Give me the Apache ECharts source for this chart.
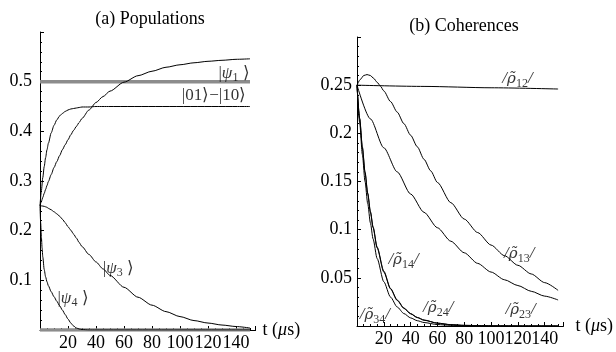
<!DOCTYPE html>
<html>
<head>
<meta charset="utf-8">
<script src="https://cdn.jsdelivr.net/npm/echarts@6/dist/echarts.min.js"></script>
<style>html,body{margin:0;padding:0;background:#fff}#c{width:616px;height:352px}</style>
</head>
<body>
<div id="c"></div>
<script>
// ---------- Panel (a) Populations ----------
const tA = [0,1,2,3,4,5,6,8,10,12,14,16,18,20,22,24,26,28,30,35,40,45,50,60,70,80,90,100,110,120,130,140,150];
const psi1 = [0.25,0.259,0.267,0.275,0.283,0.291,0.299,0.313,0.327,0.339,0.351,0.363,0.373,0.383,0.393,0.402,0.410,0.418,0.426,0.443,0.458,0.470,0.481,0.499,0.512,0.521,0.529,0.534,0.538,0.541,0.543,0.545,0.546];
const bell = [0.25,0.281,0.307,0.329,0.347,0.363,0.376,0.397,0.412,0.423,0.431,0.436,0.440,0.443,0.445,0.446,0.447,0.448,0.449,0.449,0.45,0.45,0.45,0.45,0.45,0.45,0.45,0.45,0.45,0.45,0.45,0.45,0.45];
const psi3 = [0.25,0.2499,0.2495,0.249,0.248,0.247,0.245,0.242,0.238,0.234,0.229,0.223,0.216,0.208,0.201,0.193,0.185,0.176,0.168,0.152,0.137,0.123,0.110,0.086,0.066,0.050,0.037,0.027,0.019,0.014,0.010,0.007,0.004];
const tPsi4 = [0,0.5,1,1.5,2,3,4,5,6,8,10,12,14,16,18,20,22,24,26,28,30,35,40,150];
const psi4 = [0.25,0.215,0.187,0.165,0.147,0.122,0.107,0.097,0.089,0.077,0.067,0.058,0.049,0.040,0.031,0.022,0.014,0.008,0.004,0.002,0.001,0,0,0];
const tFlat = [0,150];
const psiHalf = [0.5,0.5];
const psiZero = [0,0];

// ---------- Panel (b) Coherences ----------
const tR12 = [0,50,100,150];
const rho12 = [0.25,0.2487,0.2473,0.246];
const tR13 = [0,2.5,5,7.5,10,12.5,15,17.5,20,25,30,35,40,45,50,55,60,70,80,90,100,110,120,130,140,150];
const rho13 = [0.25,0.256,0.260,0.261,0.260,0.257,0.253,0.249,0.244,0.233,0.222,0.210,0.198,0.186,0.173,0.161,0.149,0.128,0.111,0.097,0.084,0.073,0.063,0.054,0.045,0.037];
const tR23 = [0,10,20,30,40,50,60,70,80,90,100,110,120,130,140,150];
const rho23 = [0.25,0.215,0.185,0.160,0.137,0.118,0.102,0.088,0.076,0.065,0.056,0.048,0.042,0.036,0.031,0.027];
const tFast = [0,2,4,6,8,10,12,15,20,25,30,35,40,45,50,60,70,80,100,120,150];
const rho14 = [0.25,0.2155,0.186,0.160,0.138,0.119,0.103,0.082,0.057,0.039,0.027,0.0187,0.0129,0.0089,0.0062,0.0030,0.0014,0.0007,0.00015,0,0];
const rho24 = [0.25,0.215,0.185,0.159,0.137,0.118,0.102,0.081,0.056,0.0385,0.0265,0.0183,0.0126,0.0087,0.006,0.0029,0.0013,0.0006,0.0001,0,0];
const rho34 = [0.25,0.211,0.178,0.150,0.127,0.107,0.0904,0.0701,0.0459,0.0300,0.0197,0.0129,0.0084,0.0055,0.0036,0.0015,0.0007,0.0003,0.0001,0,0];

// tick settings
const xTicksInterval = 20;
const yIntervalA = 0.1;
const yIntervalB = 0.05;

const FONT = 'Liberation Serif';
const pair = (ts, vs) => ts.map((t, i) => [t, vs[i]]);

const rich = {
  n: {fontFamily: FONT, fontSize: 17, color: '#000'},
  i: {fontFamily: FONT, fontSize: 17, fontStyle: 'italic', color: '#000'},
  r: {fontFamily: 'DejaVu Serif', fontSize: 15, fontStyle: 'italic', color: '#000'},
  s: {fontFamily: FONT, fontSize: 12, color: '#000', padding: [9, 0, 0, 0]}
};

function xAxis(grid) {
  return {
    gridIndex: grid, type: 'value', min: 0, max: 154, interval: xTicksInterval,
    axisLine: {onZero: false, lineStyle: {color: '#000', width: 1}},
    axisTick: {inside: true, length: 4, lineStyle: {color: '#000'}},
    minorTick: {show: true, splitNumber: 4, length: 2, lineStyle: {color: '#000'}},
    axisLabel: {showMinLabel: false, showMaxLabel: false, margin: 4, color: '#000', fontFamily: FONT, fontSize: 18,
      formatter: v => (v === 0 || v > 150) ? '' : String(v)},
    splitLine: {show: false},
    name: '{n|t (}{i|μ}{n|s)}', nameLocation: 'end', nameGap: grid === 0 ? 7 : 12,
    nameTextStyle: {rich: {n: {fontFamily: FONT, fontSize: 18, color: '#000'}, i: {fontFamily: FONT, fontSize: 18, fontStyle: 'italic', color: '#000'}}}
  };
}
function yAxis(grid, max, interval, minorSplit) {
  return {
    gridIndex: grid, type: 'value', min: 0, max: max, interval: interval,
    axisLine: {show: true, onZero: false, lineStyle: {color: '#000', width: 1}},
    axisTick: {show: true, inside: true, length: 4, lineStyle: {color: '#000'}},
    minorTick: {show: true, splitNumber: minorSplit, length: 2, lineStyle: {color: '#000'}},
    axisLabel: {showMinLabel: false, showMaxLabel: false, margin: grid === 0 ? 8 : 5, color: '#000', fontFamily: FONT, fontSize: 18,
      formatter: v => (v === 0 || v >= max - 1e-9) ? '' : String(+v.toFixed(2))},
    splitLine: {show: false}
  };
}
function curve(name, grid, ts, vs, color, width) {
  return {
    name, type: 'line', xAxisIndex: grid, yAxisIndex: grid, data: pair(ts, vs),
    showSymbol: false, symbol: 'none', smooth: 0.25, smoothMonotone: 'x',
    lineStyle: {color: color || '#000', width: width || 1}, silent: true, z: width ? 2 : 3
  };
}
function labels(grid, items) {
  return {
    type: 'scatter', xAxisIndex: grid, yAxisIndex: grid, symbolSize: 0, silent: true, z: 5,
    data: items.map(it => ({value: it.at, label: {formatter: it.text}})),
    label: {show: true, position: 'inside', rich: rich}
  };
}

const chart = echarts.init(document.getElementById('c'), null, {renderer: 'canvas'});
chart.setOption({
  animation: false,
  backgroundColor: '#fff',
  title: [
    {text: '(a) Populations', left: 145, top: 5, textAlign: 'center',
      textStyle: {fontFamily: FONT, fontSize: 18, fontWeight: 'normal', color: '#000'}},
    {text: '(b) Coherences', left: 459, top: 12, textAlign: 'center',
      textStyle: {fontFamily: FONT, fontSize: 18, fontWeight: 'normal', color: '#000'}}
  ],
  grid: [
    {left: 40, top: 32, width: 215.6, height: 299},
    {left: 357, top: 37, width: 208.4, height: 289}
  ],
  xAxis: [xAxis(0), xAxis(1)],
  yAxis: [yAxis(0, 0.6, yIntervalA, 5), yAxis(1, 0.3, yIntervalB, 5)],
  series: [
    curve('half', 0, tFlat, psiHalf, '#8c8c8c', 3.5),
    curve('zero', 0, tFlat, psiZero, '#8c8c8c', 3.5),
    curve('psi1', 0, tA, psi1),
    curve('bell', 0, tA, bell),
    curve('psi3', 0, tA, psi3),
    curve('psi4', 0, tPsi4, psi4),
    labels(0, [
      {at: [138.6, 0.516], text: '{n||}{i|ψ}{s|1}{n| ⟩}'},
      {at: [124.3, 0.472], text: '{n||01⟩−|10⟩}'},
      {at: [56, 0.124], text: '{n||}{i|ψ}{s|3}{n| ⟩}'},
      {at: [23.6, 0.064], text: '{n||}{i|ψ}{s|4}{n| ⟩}'}
    ]),
    curve('rho12', 1, tR12, rho12),
    curve('rho13', 1, tR13, rho13),
    curve('rho23', 1, tR23, rho23),
    curve('rho14', 1, tFast, rho14),
    curve('rho24', 1, tFast, rho24),
    curve('rho34', 1, tFast, rho34),
    labels(1, [
      {at: [119.7, 0.2565], text: '{i|/}{r|ρ̃}{s|12}{i|/}'},
      {at: [121, 0.0748], text: '{i|/}{r|ρ̃}{s|13}{i|/}'},
      {at: [122, 0.0166], text: '{i|/}{r|ρ̃}{s|23}{i|/}'},
      {at: [34.7, 0.0685], text: '{i|/}{r|ρ̃}{s|14}{i|/}'},
      {at: [60.6, 0.0187], text: '{i|/}{r|ρ̃}{s|24}{i|/}'},
      {at: [13.3, 0.0114], text: '{i|/}{r|ρ̃}{s|34}{i|/}'}
    ])
  ]
});
</script>
</body>
</html>
